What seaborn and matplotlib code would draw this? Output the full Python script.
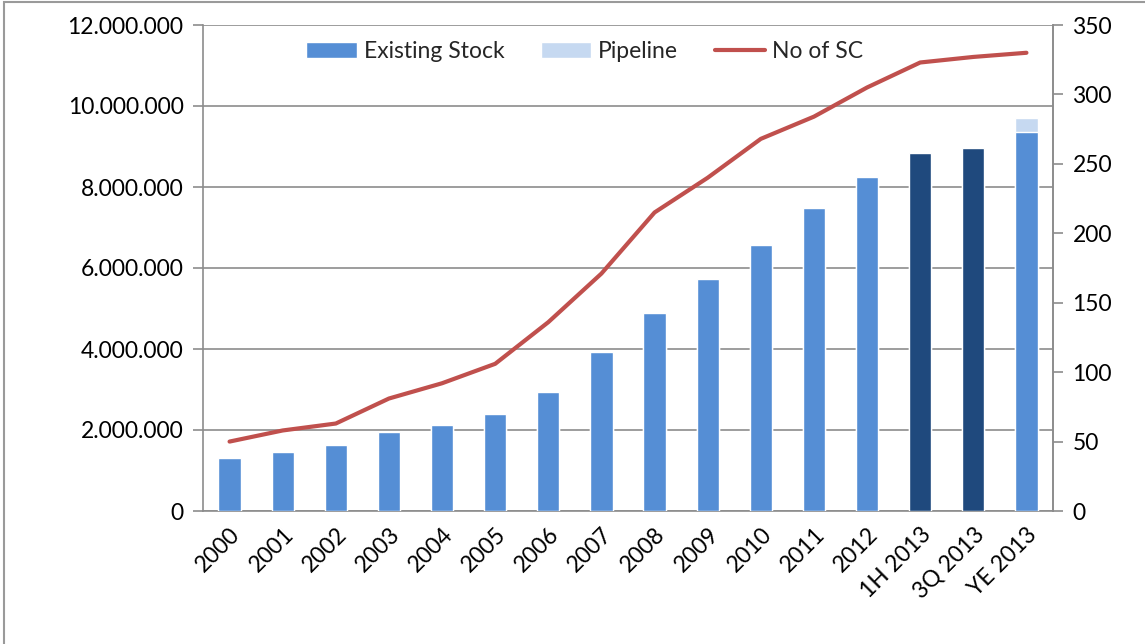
import matplotlib
matplotlib.use("Agg")
import matplotlib.pyplot as plt
import seaborn as sns
import pandas as pd
import numpy as np
from matplotlib.patches import Patch, Rectangle
from matplotlib.lines import Line2D
from matplotlib.ticker import FuncFormatter, MultipleLocator

categories = ["2000", "2001", "2002", "2003", "2004", "2005", "2006", "2007",
              "2008", "2009", "2010", "2011", "2012", "1H 2013", "3Q 2013", "YE 2013"]
existing_stock = [1310000, 1460000, 1630000, 1950000, 2120000, 2400000, 2940000, 3930000,
                  4890000, 5730000, 6570000, 7480000, 8250000, 8840000, 8960000, 9360000]
pipeline = [0, 0, 0, 0, 0, 0, 0, 0, 0, 0, 0, 0, 0, 0, 0, 340000]
no_of_sc = [50, 58, 63, 81, 92, 106, 136, 171, 215, 240, 268, 284, 305, 323, 327, 330]

sns.set_theme(style="white")
plt.rcParams['font.family'] = ['Lato', 'DejaVu Sans']

df = pd.DataFrame({"cat": categories, "stock": existing_stock,
                   "pipe": pipeline, "sc": no_of_sc})
df["total"] = df["stock"] + df["pipe"]

light = "#558ED5"
dark = "#1F497D"
pipe_c = "#C6D9F1"
red = "#C0504D"
grid_c = "#8C8C8C"
fs = 16.5

fig = plt.figure(figsize=(11.45, 6.44), dpi=100)
ax = fig.add_axes([203/1145, 1-511/644, (1053-203)/1145, (511-25)/644])

bar_colors = [dark if c in ("1H 2013", "3Q 2013") else light for c in categories]
sns.barplot(data=df, x="cat", y="total", color=pipe_c, width=0.42, ax=ax,
            saturation=1, zorder=2)
sns.barplot(data=df, x="cat", y="stock", hue="cat", palette=bar_colors, legend=False,
            width=0.42, ax=ax, saturation=1, zorder=3)

ax.set_xlim(-0.5, len(categories)-0.5)
ax.set_ylim(0, 12000000)
ax.yaxis.set_major_locator(MultipleLocator(2000000))
ax.yaxis.set_major_formatter(FuncFormatter(lambda v, p: f"{int(v):,}".replace(",", ".")))
ax.yaxis.grid(True, color=grid_c, linewidth=1.2, zorder=0)
ax.set_axisbelow(True)
ax.set_xlabel("")
ax.set_ylabel("")

ax.spines["top"].set_visible(False)
for s in ["left", "bottom", "right"]:
    ax.spines[s].set_color(grid_c)
    ax.spines[s].set_linewidth(1.2)

ax.set_xticks(np.arange(len(categories)))
ax.set_xticklabels(categories, rotation=45, ha="right", rotation_mode="anchor",
                   fontsize=fs, color="#000000")
ax.tick_params(axis="x", which="major", length=0, pad=9)
ax.set_xticks(np.arange(-0.5, len(categories)), minor=True)
ax.tick_params(axis="x", which="minor", length=7, width=1.2, color=grid_c, direction="out")
ax.tick_params(axis="y", length=7, width=1.2, color=grid_c, direction="out",
               labelsize=fs, labelcolor="#000000", left=True, pad=7)

ax2 = ax.twinx()
sns.lineplot(x=np.arange(len(categories)), y=df["sc"], color=red, linewidth=3,
             ax=ax2, zorder=4)
ax2.set_ylim(0, 350)
ax2.yaxis.set_major_locator(MultipleLocator(50))
ax2.set_ylabel("")
for s in ["top", "left", "bottom"]:
    ax2.spines[s].set_visible(False)
ax2.spines["right"].set_color(grid_c)
ax2.spines["right"].set_linewidth(1.2)
ax2.tick_params(axis="y", length=7, width=1.2, color=grid_c, direction="out",
                labelsize=fs, labelcolor="#000000", right=True, pad=7)
ax2.grid(False)

handles = [Patch(facecolor=light, label="Existing Stock"),
           Patch(facecolor=pipe_c, label="Pipeline"),
           Line2D([0], [0], color=red, linewidth=3, label="No of SC")]
leg = ax2.legend(handles=handles, loc="upper center", bbox_to_anchor=(0.449, 1.0),
                 ncol=3, frameon=False, fontsize=fs, handlelength=2.2,
                 handleheight=0.7, columnspacing=1.6, handletextpad=0.3,
                 borderaxespad=0.3)

fig.patches.append(Rectangle((4/1145, -0.1), 1.2, 1-2/644+0.1, transform=fig.transFigure,
                             fill=False, edgecolor="#9A9A9A", linewidth=1.5))

fig.savefig("out.png", dpi=100)
